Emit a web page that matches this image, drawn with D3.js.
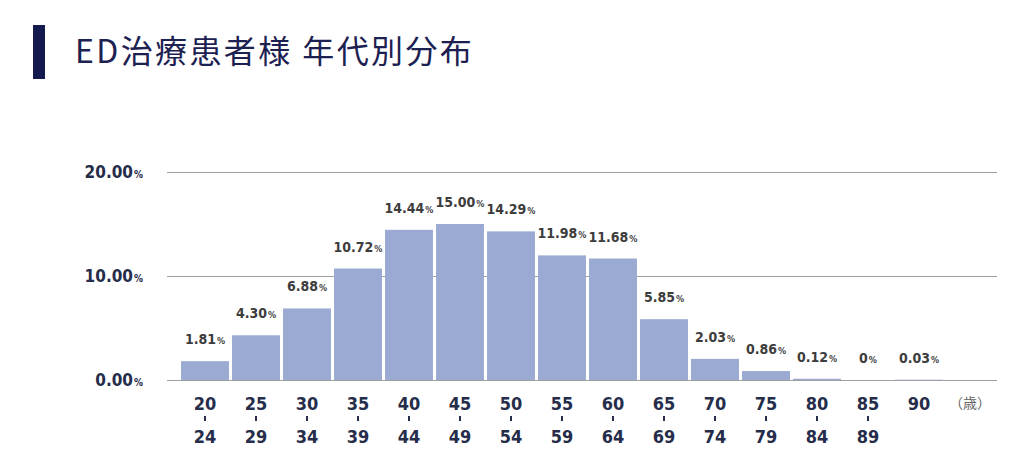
<!doctype html>
<html lang="ja">
<head>
<meta charset="UTF-8">
<title>ED治療患者様 年代別分布</title>
<script src="https://cdn.jsdelivr.net/npm/d3@7"></script>
<style>
  body { margin: 0; background: #fff; }
  .num { font-family: "DejaVu Sans Condensed", "DejaVu Sans", sans-serif; font-stretch: condensed; }
</style>
</head>
<body>
<script>
  var width = 1024, height = 472;

  // data
  var ageFrom = ["20","25","30","35","40","45","50","55","60","65","70","75","80","85","90"];
  var ageTo   = ["24","29","34","39","44","49","54","59","64","69","74","79","84","89",""];
  var shares  = [1.81, 4.30, 6.88, 10.72, 14.44, 15.00, 14.29, 11.98, 11.68, 5.85, 2.03, 0.86, 0.12, 0, 0.03];
  var shareLabels = ["1.81","4.30","6.88","10.72","14.44","15.00","14.29","11.98","11.68","5.85","2.03","0.86","0.12","0","0.03"];
  var yTicks = [0, 10, 20];
  var yTickLabels = ["0.00", "10.00", "20.00"];

  var svg = d3.select("body").append("svg")
      .attr("width", width)
      .attr("height", height);

  // title
  svg.append("rect")
      .attr("x", 33).attr("y", 25)
      .attr("width", 12).attr("height", 54)
      .attr("fill", "#141a4d");
  svg.append("text")
      .attr("x", 75).attr("y", 63)
      .attr("font-family", "'Noto Sans CJK JP', sans-serif")
      .attr("font-size", 32)
      .attr("font-weight", 400)
      .attr("letter-spacing", 2.4)
      .attr("fill", "#1c2152")
      .text("ED治療患者様 年代別分布");

  // scales: one extra slot on the right for the unit label
  var x = d3.scaleBand()
      .domain(ageFrom.concat(["unit"]))
      .range([179.5, 995.5])
      .paddingInner(0.06)
      .paddingOuter(0.03);

  var y = d3.scaleLinear()
      .domain([0, 20])
      .range([380, 172]);

  // gridlines
  svg.append("g").selectAll("line")
      .data(yTicks)
      .enter().append("line")
      .attr("x1", 167).attr("x2", 997)
      .attr("y1", function(d) { return y(d) + 0.5; })
      .attr("y2", function(d) { return y(d) + 0.5; })
      .attr("stroke", "#a0a0a0")
      .attr("stroke-width", 1.2);

  // y labels
  var yl = svg.append("g").selectAll("text")
      .data(yTicks)
      .enter().append("text")
      .attr("class", "num")
      .attr("x", 143)
      .attr("y", function(d) { return y(d) + 6; })
      .attr("text-anchor", "end")
      .attr("font-size", 17)
      .attr("font-weight", "bold")
      .attr("fill", "#262d4a");
  yl.append("tspan").text(function(d, i) { return yTickLabels[i]; });
  yl.append("tspan").attr("font-size", 10).attr("dx", 1).text("%");

  // bars
  svg.append("g").selectAll("rect")
      .data(shares)
      .enter().append("rect")
      .attr("x", function(d, i) { return x(ageFrom[i]); })
      .attr("y", function(d) { return y(d); })
      .attr("width", x.bandwidth())
      .attr("height", function(d) { return y(0) - y(d); })
      .attr("fill", "#9aaad3");

  // baseline on top
  svg.append("line")
      .attr("x1", 167).attr("x2", 997)
      .attr("y1", y(0) + 0.5).attr("y2", y(0) + 0.5)
      .attr("stroke", "#a0a0a0")
      .attr("stroke-width", 1.2);

  // value labels
  var vl = svg.append("g").selectAll("text")
      .data(shares)
      .enter().append("text")
      .attr("class", "num")
      .attr("x", function(d, i) { return x(ageFrom[i]) + x.bandwidth() / 2; })
      .attr("y", function(d) { return y(d) - 17; })
      .attr("text-anchor", "middle")
      .attr("font-size", 14)
      .attr("font-weight", "bold")
      .attr("fill", "#3d3d3d");
  vl.append("tspan").text(function(d, i) { return shareLabels[i]; });
  vl.append("tspan").attr("font-size", 9).attr("dx", 1).text("%");

  // x labels
  var xg = svg.append("g").selectAll("g")
      .data(ageFrom)
      .enter().append("g")
      .attr("transform", function(d) { return "translate(" + (x(d) + x.bandwidth() / 2) + ",0)"; });
  xg.append("text")
      .attr("class", "num")
      .attr("y", 410)
      .attr("text-anchor", "middle")
      .attr("font-size", 18)
      .attr("font-weight", "bold")
      .attr("fill", "#262d4a")
      .text(function(d) { return d; });
  xg.filter(function(d, i) { return ageTo[i] !== ""; })
      .append("rect")
      .attr("x", -1).attr("y", 416)
      .attr("width", 2).attr("height", 5)
      .attr("fill", "#262d4a");
  xg.append("text")
      .attr("class", "num")
      .attr("y", 443)
      .attr("text-anchor", "middle")
      .attr("font-size", 18)
      .attr("font-weight", "bold")
      .attr("fill", "#262d4a")
      .text(function(d, i) { return ageTo[i]; });

  // unit
  svg.append("text")
      .attr("x", x("unit") + x.bandwidth() / 2)
      .attr("y", 408)
      .attr("text-anchor", "middle")
      .attr("font-family", "'Noto Sans CJK JP', sans-serif")
      .attr("font-size", 14)
      .attr("fill", "#666")
      .text("（歳）");
</script>
</body>
</html>
